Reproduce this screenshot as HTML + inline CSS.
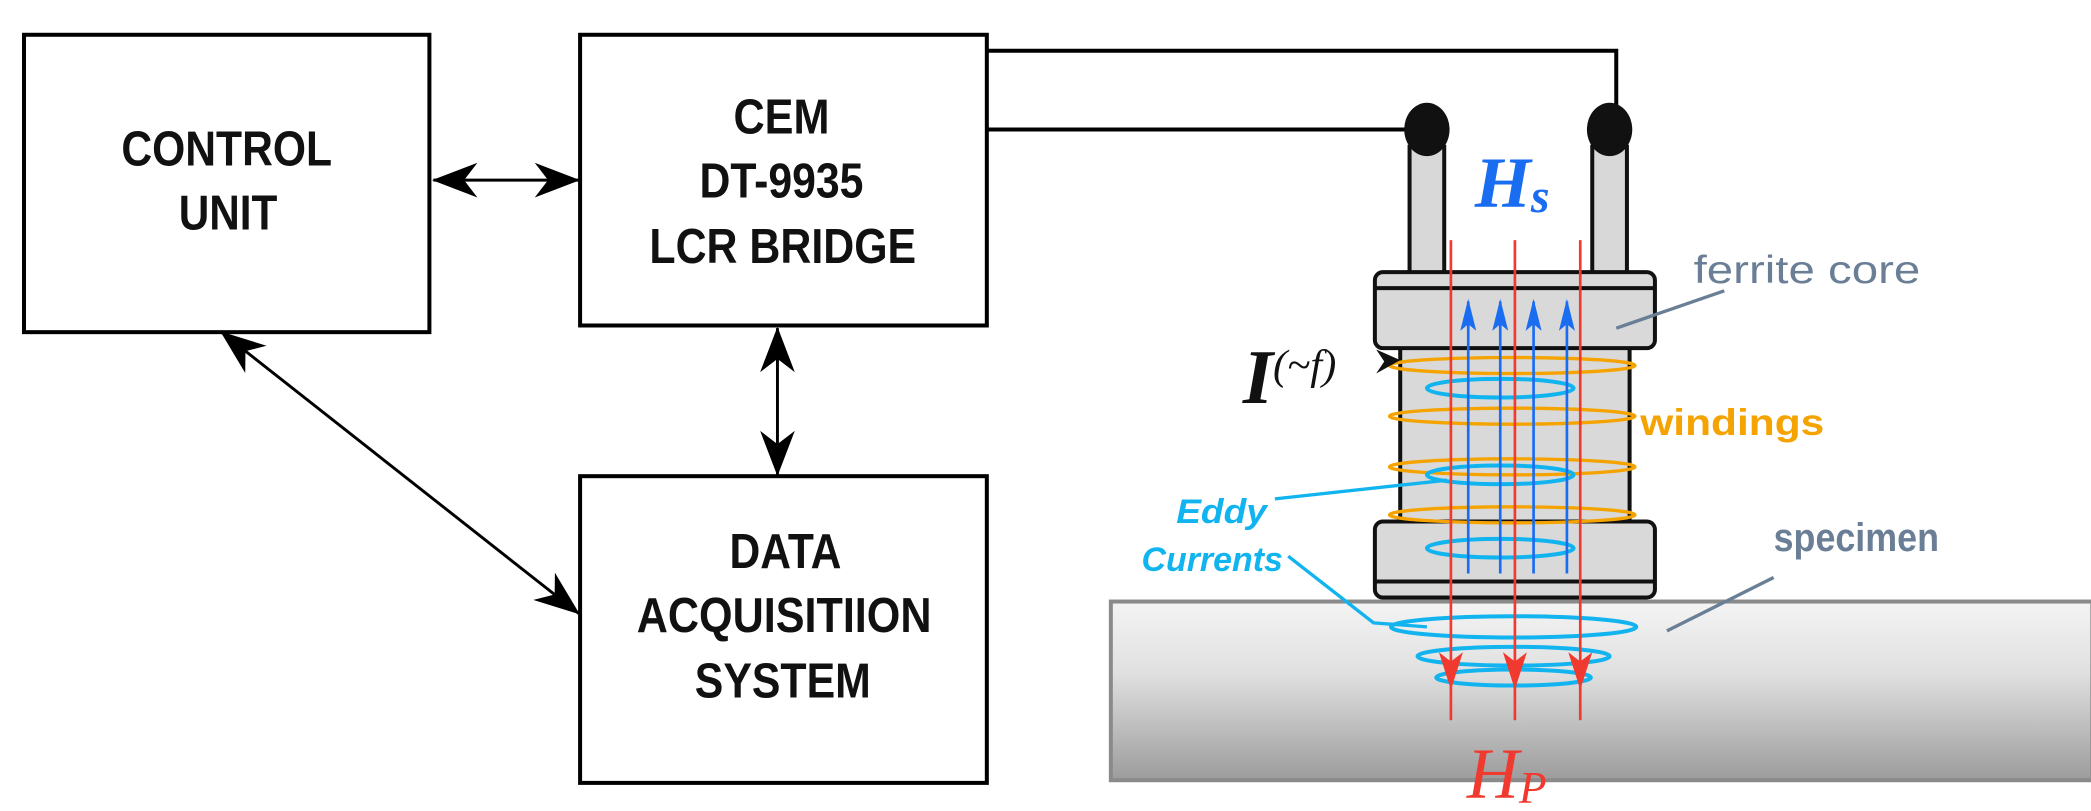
<!DOCTYPE html>
<html><head><meta charset="utf-8"><style>
html,body{margin:0;padding:0;background:#fff;width:2091px;height:811px;overflow:hidden}
svg{display:block}
.b{font-family:"Liberation Sans",sans-serif;font-weight:bold;font-size:37px;fill:#111;text-anchor:middle}
</style></head><body>
<svg width="2091" height="811" viewBox="0 0 1568 608" xmlns="http://www.w3.org/2000/svg">
<defs>
<linearGradient id="sp" x1="0" y1="0" x2="0" y2="1"><stop offset="0" stop-color="#f4f4f4"/><stop offset="0.4" stop-color="#e0e0e0"/><stop offset="1" stop-color="#9c9c9c"/></linearGradient>
<marker id="ah" markerWidth="34" markerHeight="26" refX="33" refY="13" orient="auto-start-reverse" markerUnits="userSpaceOnUse"><path d="M0,0 L34,13 L0,26 L10,13z" fill="#000"/></marker>
<marker id="ab" markerWidth="12" markerHeight="24" refX="6" refY="2" orient="0" markerUnits="userSpaceOnUse"><path d="M6,0 L12,24 L6,19 L0,24z" fill="#1a6cf0"/></marker>
<marker id="ar" markerWidth="18" markerHeight="28" refX="9" refY="26" orient="0" markerUnits="userSpaceOnUse"><path d="M9,28 L0,0 L9,7 L18,0z" fill="#f03a30"/></marker>
</defs>
<g fill="none" stroke="#000" stroke-width="3">
<rect x="18" y="26" width="304" height="223"/>
<rect x="435" y="26" width="305" height="218"/>
<rect x="435" y="357" width="305" height="230"/>
<polyline points="740,38 1212,38 1212,85"/>
<polyline points="740,97 1060,97"/>
</g>
<g stroke="#000" stroke-width="2.2" marker-start="url(#ah)" marker-end="url(#ah)">
<line x1="325" y1="135" x2="434" y2="135"/>
<line x1="583" y1="246" x2="583" y2="356"/>
<line x1="166" y1="249" x2="434" y2="460"/>
</g>
<text class="b" x="170" y="124" textLength="158" lengthAdjust="spacingAndGlyphs">CONTROL</text>
<text class="b" x="171" y="172" textLength="74" lengthAdjust="spacingAndGlyphs">UNIT</text>
<text class="b" x="586" y="100" textLength="72" lengthAdjust="spacingAndGlyphs">CEM</text>
<text class="b" x="586" y="148" textLength="123" lengthAdjust="spacingAndGlyphs">DT-9935</text>
<text class="b" x="587" y="197" textLength="200" lengthAdjust="spacingAndGlyphs">LCR BRIDGE</text>
<text class="b" x="589" y="426" textLength="84" lengthAdjust="spacingAndGlyphs">DATA</text>
<text class="b" x="588" y="474" textLength="221" lengthAdjust="spacingAndGlyphs">ACQUISITIION</text>
<text class="b" x="587" y="523" textLength="132" lengthAdjust="spacingAndGlyphs">SYSTEM</text>
<!-- specimen -->
<rect x="833" y="451" width="736" height="134" fill="url(#sp)" stroke="#8a8a8a" stroke-width="3"/>
<!-- posts -->
<rect x="1057" y="110" width="26" height="96" fill="#d8d8d8" stroke="#111" stroke-width="3"/>
<rect x="1194" y="110" width="26" height="96" fill="#d8d8d8" stroke="#111" stroke-width="3"/>
<ellipse cx="1070" cy="97" rx="17" ry="20" fill="#111"/>
<ellipse cx="1207" cy="97" rx="17" ry="20" fill="#111"/>
<!-- core -->
<rect x="1050" y="258" width="172" height="136" fill="#d9d9d9" stroke="#111" stroke-width="3"/>
<rect x="1031" y="204" width="210" height="57" rx="6" fill="#d9d9d9" stroke="#111" stroke-width="3"/>
<line x1="1032" y1="216" x2="1240" y2="216" stroke="#111" stroke-width="3"/>
<rect x="1031" y="391" width="210" height="57" rx="6" fill="#d9d9d9" stroke="#111" stroke-width="3"/>
<line x1="1032" y1="436" x2="1240" y2="436" stroke="#111" stroke-width="3"/>
<!-- windings -->
<g fill="none" stroke="#f5a300" stroke-width="2.5">
<ellipse cx="1134" cy="274" rx="92" ry="6"/><ellipse cx="1134" cy="312" rx="92" ry="6"/>
<ellipse cx="1134" cy="350" rx="92" ry="6"/><ellipse cx="1134" cy="386" rx="92" ry="6"/>
</g>
<!-- eddy -->
<g fill="none" stroke="#12b4f0" stroke-width="3">
<ellipse cx="1125" cy="291" rx="55" ry="7"/><ellipse cx="1125" cy="356" rx="55" ry="7"/><ellipse cx="1125" cy="411" rx="55" ry="7"/>
<ellipse cx="1135" cy="470" rx="92" ry="8"/><ellipse cx="1135" cy="492" rx="72" ry="7"/><ellipse cx="1135" cy="508" rx="58" ry="6"/>
<polyline points="956,374 1085,360" stroke-width="2.5"/>
<polyline points="966,417 1030,467 1070,470" stroke-width="2.5"/>
</g>
<!-- blue field -->
<g stroke="#1a6cf0" stroke-width="2" marker-start="url(#ab)">
<line x1="1101" y1="226" x2="1101" y2="430"/><line x1="1125" y1="226" x2="1125" y2="430"/>
<line x1="1150" y1="226" x2="1150" y2="430"/><line x1="1175" y1="226" x2="1175" y2="430"/>
</g>
<!-- red field -->
<g stroke="#f03a30" stroke-width="2" marker-end="url(#ar)">
<line x1="1088" y1="180" x2="1088" y2="515"/><line x1="1136" y1="180" x2="1136" y2="515"/><line x1="1185" y1="180" x2="1185" y2="515"/>
</g>
<g stroke="#f03a30" stroke-width="2"><line x1="1088" y1="510" x2="1088" y2="540"/><line x1="1136" y1="510" x2="1136" y2="540"/><line x1="1185" y1="510" x2="1185" y2="540"/></g>
<!-- leaders -->
<g stroke="#6a7f96" stroke-width="2.5"><line x1="1212" y1="246" x2="1293" y2="218"/><line x1="1250" y1="473" x2="1330" y2="433"/></g>
<path d="M1050,270 L1032,262 L1038,271 L1032,280z" fill="#111"/>
<!-- labels -->
<text x="1106" y="155" font-family="Liberation Serif,serif" font-style="italic" font-weight="bold" font-size="54" fill="#1a6cf0">H<tspan font-size="36" dy="4">s</tspan></text>
<text x="1100" y="598" font-family="Liberation Serif,serif" font-style="italic" font-size="54" fill="#f03a30">H<tspan font-size="34" dy="4">P</tspan></text>
<text x="932" y="302" font-family="Liberation Serif,serif" font-style="italic" font-weight="bold" font-size="58" fill="#111">I<tspan font-size="32" dy="-18" font-weight="normal">(~f)</tspan></text>
<text x="1270" y="212" font-family="Liberation Sans,sans-serif" font-size="29" fill="#6a7f96" textLength="170" lengthAdjust="spacingAndGlyphs">ferrite core</text>
<text x="1230" y="326" font-family="Liberation Sans,sans-serif" font-weight="bold" font-size="28" fill="#f5a300" textLength="138" lengthAdjust="spacingAndGlyphs">windings</text>
<text x="1330" y="413" font-family="Liberation Sans,sans-serif" font-weight="bold" font-size="30" fill="#6a7f96" textLength="124" lengthAdjust="spacingAndGlyphs">specimen</text>
<text x="882" y="392" font-family="Liberation Sans,sans-serif" font-weight="bold" font-style="italic" font-size="26" fill="#12b4f0" textLength="68" lengthAdjust="spacingAndGlyphs">Eddy</text>
<text x="856" y="428" font-family="Liberation Sans,sans-serif" font-weight="bold" font-style="italic" font-size="26" fill="#12b4f0" textLength="106" lengthAdjust="spacingAndGlyphs">Currents</text>
</svg>
</body></html>
